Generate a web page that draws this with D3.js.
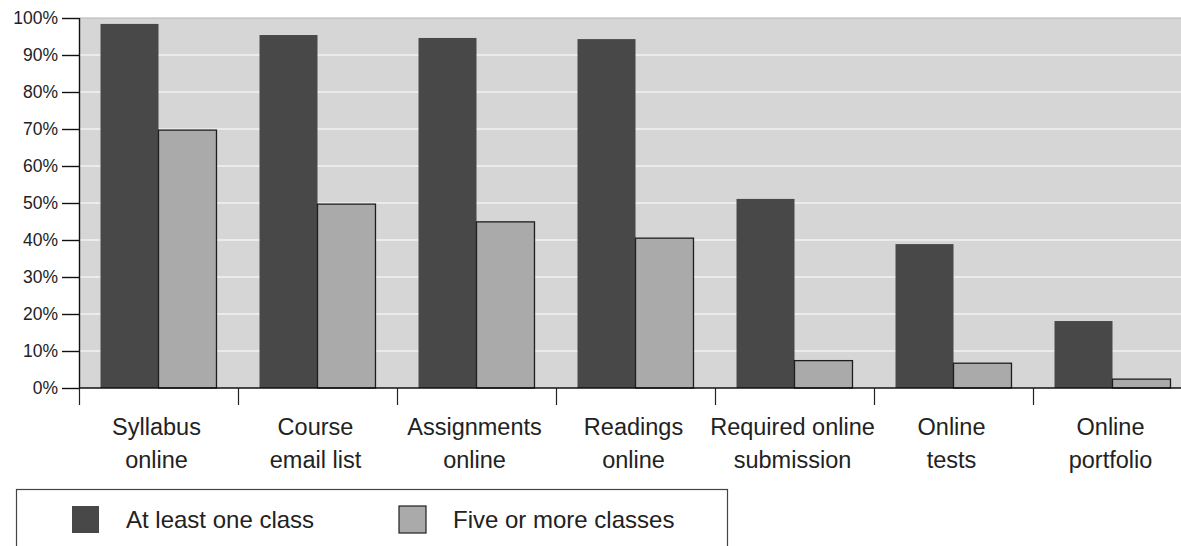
<!DOCTYPE html>
<html>
<head>
<meta charset="utf-8">
<script src="https://cdn.jsdelivr.net/npm/d3@7"></script>
<style>
  html, body { margin: 0; padding: 0; background: #fff; overflow: hidden; }
  svg { display: block; font-family: "Liberation Sans", Arial, sans-serif; }
</style>
</head>
<body>
<svg id="chart" width="1181" height="546"></svg>
<script>
const categories = [
  ["Syllabus", "online"],
  ["Course", "email list"],
  ["Assignments", "online"],
  ["Readings", "online"],
  ["Required online", "submission"],
  ["Online", "tests"],
  ["Online", "portfolio"]
];
const seriesNames = ["At least one class", "Five or more classes"];
const atLeastOne = [98.4, 95.4, 94.6, 94.3, 51.1, 38.9, 18.1];
const fiveOrMore = [69.7, 49.7, 44.9, 40.5, 7.4, 6.7, 2.4];
const yTicks = [0, 10, 20, 30, 40, 50, 60, 70, 80, 90, 100];
const seriesColors = ["#484848", "#aaaaaa"];

const svg = d3.select("#chart");
const plotLeft = 79, plotTop = 18, plotBottom = 388;
const step = 159;
const plotRight = plotLeft + step * categories.length;

const catKeys = categories.map(c => c.join(" "));
const x = d3.scaleBand().domain(catKeys).range([plotLeft, plotRight]).paddingInner(0).paddingOuter(0);
const xSub = d3.scaleBand().domain(seriesNames).range([0, x.bandwidth()]).paddingInner(0).paddingOuter(0.371);
const y = d3.scaleLinear().domain([0, 100]).range([plotBottom, plotTop]);

// background
svg.append("rect")
  .attr("x", plotLeft).attr("y", plotTop)
  .attr("width", plotRight - plotLeft).attr("height", plotBottom - plotTop)
  .attr("fill", "#d6d6d6");

// gridlines
svg.append("g").selectAll("line")
  .data(yTicks.filter(t => t > 0 && t < 100))
  .join("line")
  .attr("x1", plotLeft).attr("x2", plotRight)
  .attr("y1", d => y(d)).attr("y2", d => y(d))
  .attr("stroke", "#f2f2f2").attr("stroke-width", 1.5);
svg.append("line")
  .attr("x1", plotLeft).attr("x2", plotRight)
  .attr("y1", y(100)).attr("y2", y(100))
  .attr("stroke", "#b4b4b4").attr("stroke-width", 1);

// bars
const data = catKeys.map((k, i) => ({ key: k, vals: [atLeastOne[i], fiveOrMore[i]] }));
const groups = svg.append("g").selectAll("g")
  .data(data).join("g")
  .attr("transform", d => `translate(${x(d.key)},0)`);
groups.selectAll("rect")
  .data(d => d.vals.map((v, j) => ({ s: seriesNames[j], v, j })))
  .join("rect")
  .attr("x", d => xSub(d.s))
  .attr("y", d => y(d.v))
  .attr("width", xSub.bandwidth())
  .attr("height", d => y(0) - y(d.v))
  .attr("fill", d => seriesColors[d.j])
  .attr("stroke", d => d.j === 1 ? "#1e1e1e" : "none")
  .attr("stroke-width", 1.3);

// y axis
const yAxis = d3.axisLeft(y).tickValues(yTicks).tickFormat(d => d + "%").tickSize(17).tickPadding(4);
const gy = svg.append("g").attr("transform", `translate(${plotLeft},0)`).call(yAxis);
gy.select(".domain").attr("stroke", "#111").attr("stroke-width", 1.4).attr("d", `M0.5,${plotTop}V${plotBottom}`);
gy.selectAll(".tick line").attr("stroke", "#111").attr("stroke-width", 1.4);
gy.selectAll(".tick text").attr("font-size", 17.5).attr("fill", "#222")
  .attr("font-family", "'Liberation Sans', Arial, sans-serif");

// x axis line
svg.append("line")
  .attr("x1", plotLeft).attr("x2", plotRight)
  .attr("y1", plotBottom).attr("y2", plotBottom)
  .attr("stroke", "#111").attr("stroke-width", 1.4);
// category separators
const bounds = d3.range(categories.length + 1).map(i => i === categories.length ? plotRight : x(catKeys[i]));
svg.append("g").selectAll("line")
  .data(bounds).join("line")
  .attr("x1", d => d + 0.5).attr("x2", d => d + 0.5)
  .attr("y1", plotBottom).attr("y2", 405)
  .attr("stroke", "#222").attr("stroke-width", 1.2);

// category labels
const lab = svg.append("g").selectAll("text")
  .data(categories).join("text")
  .attr("text-anchor", "middle")
  .attr("font-size", 23.5)
  .attr("fill", "#222");
lab.each(function(d, i) {
  const cx = x(catKeys[i]) + x.bandwidth() / 2 - 2;
  d3.select(this).selectAll("tspan").data(d).join("tspan")
    .attr("x", cx)
    .attr("y", (t, j) => 435 + j * 33)
    .text(t => t);
});

// legend
svg.append("rect")
  .attr("x", 16.5).attr("y", 489.5).attr("width", 711).attr("height", 80)
  .attr("fill", "#fff").attr("stroke", "#444").attr("stroke-width", 1.2);
const legendX = [72, 399];
const leg = svg.append("g").selectAll("g").data(seriesNames).join("g")
  .attr("transform", (d, i) => `translate(${legendX[i]},506)`);
leg.append("rect")
  .attr("width", 27).attr("height", 27)
  .attr("fill", (d, i) => seriesColors[i])
  .attr("stroke", (d, i) => i === 1 ? "#1e1e1e" : "none")
  .attr("stroke-width", 1.2);
leg.append("text")
  .attr("x", 54).attr("y", 22)
  .attr("font-size", 24).attr("fill", "#222")
  .text(d => d);
</script>
</body>
</html>
